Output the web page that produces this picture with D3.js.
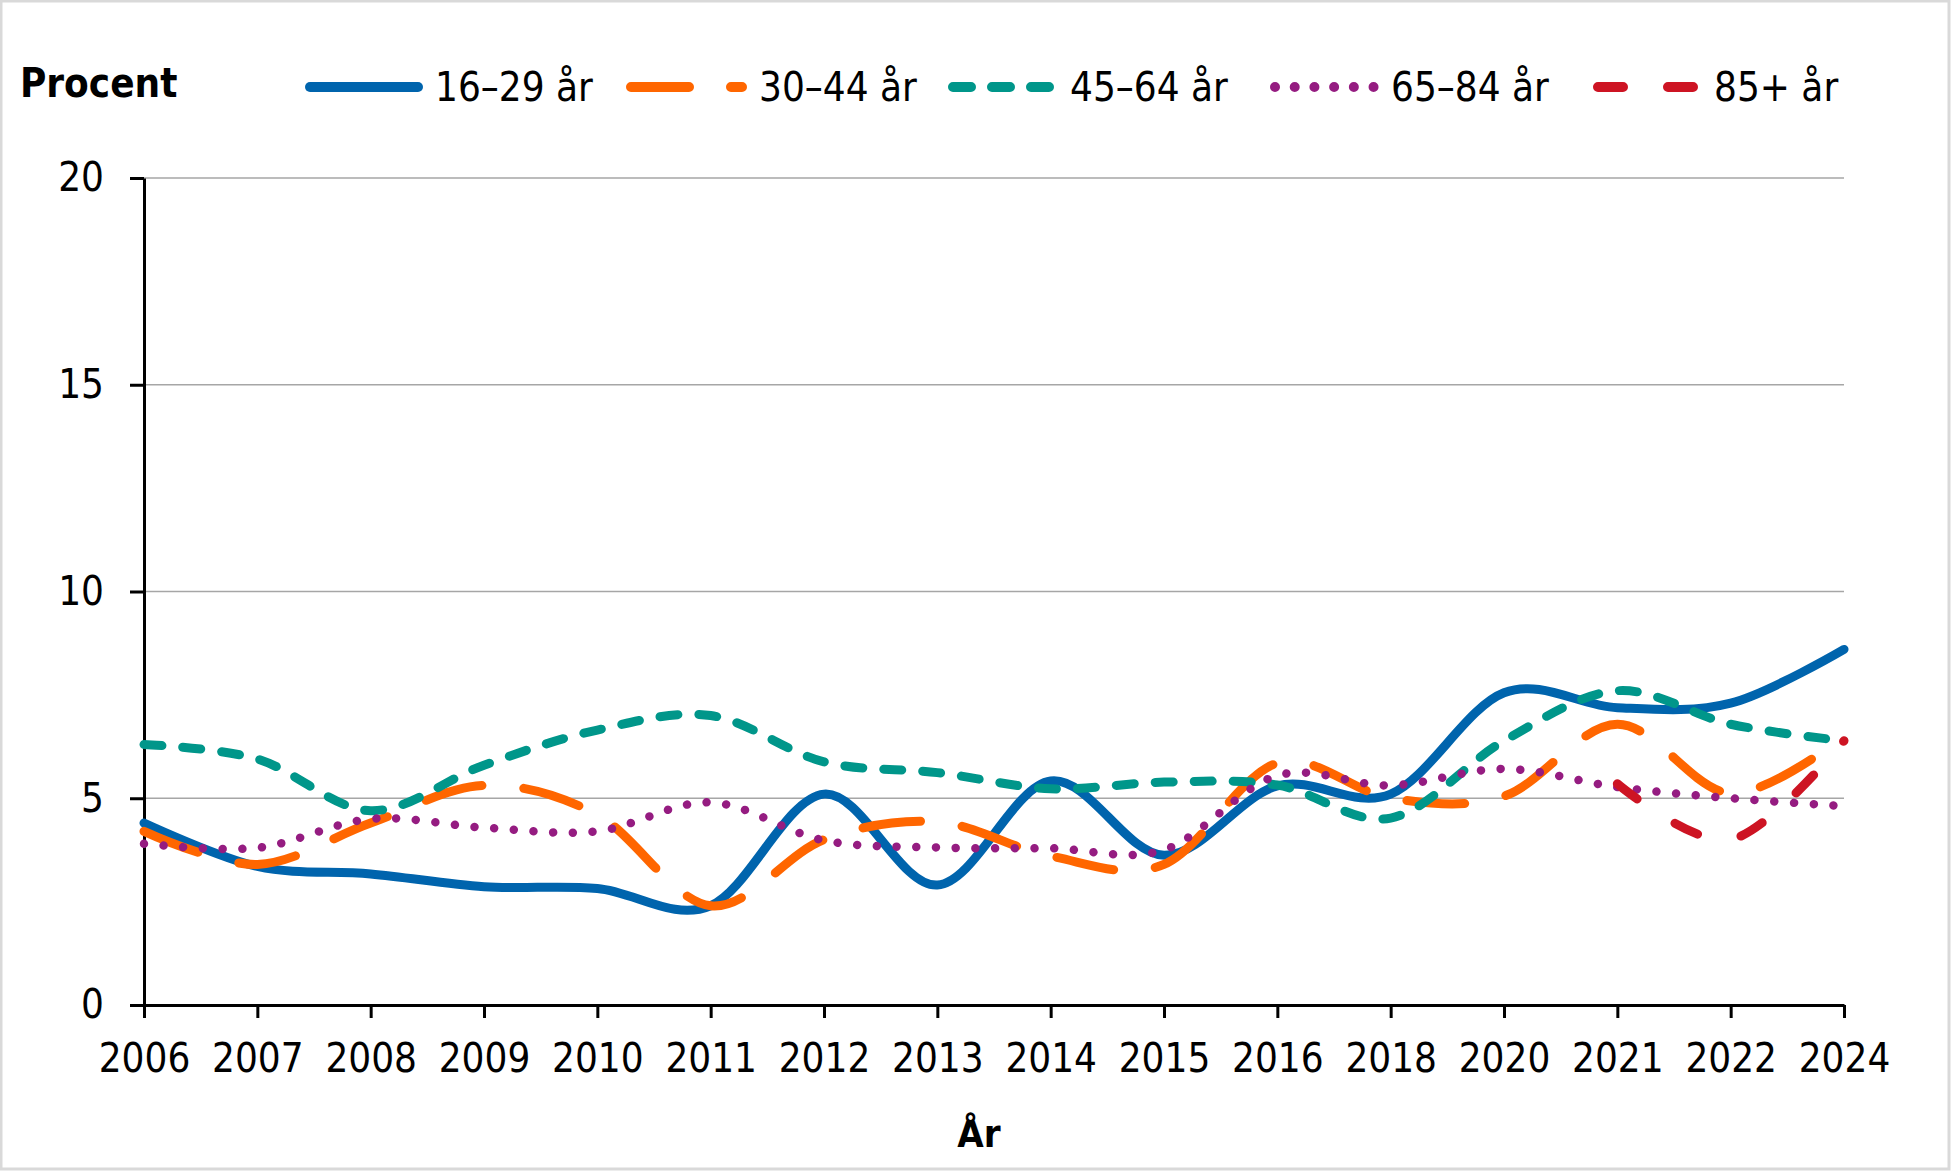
<!DOCTYPE html>
<html>
<head>
<meta charset="utf-8">
<script src="https://cdn.jsdelivr.net/npm/d3@7"></script>
<style>
  body { margin: 0; background: #fff; }
  text { font-family: 'DejaVu Sans Condensed', 'DejaVu Sans', sans-serif; font-stretch: condensed; fill: #000; }
</style>
</head>
<body>
<div id="chart"></div>
<script>
// data
const years = ['2006', '2007', '2008', '2009', '2010', '2011', '2012', '2013', '2014', '2015', '2016', '2018', '2020', '2021', '2022', '2024'];
const age16to29 = [4.4, 3.35, 3.17, 2.86, 2.82, 2.4, 5.1, 2.9, 5.42, 3.62, 5.3, 5.1, 7.55, 7.19, 7.3, 8.6];
const age30to44 = [4.2, 3.4, 4.4, 5.31, 4.6, 2.4, 4.0, 4.43, 3.6, 3.4, 5.85, 5.0, 5.05, 6.79, 5.12, 6.5];
const age45to64 = [6.3, 5.95, 4.7, 5.8, 6.65, 7.0, 5.88, 5.62, 5.23, 5.39, 5.32, 4.52, 6.39, 7.6, 6.79, 6.39];
const age65to84 = [3.9, 3.8, 4.5, 4.29, 4.2, 4.9, 3.98, 3.81, 3.79, 3.75, 5.55, 5.31, 5.71, 5.27, 5.0, 4.81];
const age85plus = [null, null, null, null, null, null, null, null, null, null, null, null, null, 5.35, 4.0, 6.39];
const yTicks = [0, 5, 10, 15, 20];

// chart parameters
const svgWidth = 1951;
const svgHeight = 1171;
const plot = { left: 144, right: 1844, top: 178, bottom: 1005 };

const series = [
  { name: '16\u201329 år', values: age16to29, color: '#0064ad', width: 9, dash: null },
  { name: '30\u201344 år', values: age30to44, color: '#ff6600', width: 9, dash: '58 42' },
  { name: '45\u201364 år', values: age45to64, color: '#00968a', width: 9, dash: '18 21' },
  { name: '65\u201384 år', values: age65to84, color: '#951c81', width: 8.5, dash: '0.01 19.7' },
  { name: '85+ år', values: age85plus, color: '#cd1423', width: 9, dash: '25 45' }
];

const svg = d3.select('#chart')
  .append('svg')
  .attr('width', svgWidth)
  .attr('height', svgHeight);

// outer frame
svg.append('rect')
  .attr('x', 1)
  .attr('y', 1)
  .attr('width', svgWidth - 3)
  .attr('height', svgHeight - 3)
  .attr('fill', '#fff')
  .attr('stroke', '#d9d9d9')
  .attr('stroke-width', 3);

const xScale = d3.scalePoint()
  .domain(years)
  .range([plot.left, plot.right]);

const yScale = d3.scaleLinear()
  .domain([0, 20])
  .range([plot.bottom, plot.top]);

// gridlines
svg.append('g')
  .selectAll('line')
  .data(yTicks.filter(d => d > 0))
  .enter()
  .append('line')
  .attr('x1', plot.left)
  .attr('x2', plot.right)
  .attr('y1', d => yScale(d))
  .attr('y2', d => yScale(d))
  .attr('stroke', '#a6a6a6')
  .attr('stroke-width', 1.5);

// y axis
const yAxis = svg.append('g')
  .attr('transform', `translate(${plot.left}, 0)`)
  .call(d3.axisLeft(yScale).tickValues(yTicks).tickSize(14).tickPadding(26).tickSizeOuter(0));

// x axis
const xAxis = svg.append('g')
  .attr('transform', `translate(0, ${plot.bottom})`)
  .call(d3.axisBottom(xScale).tickSize(13).tickPadding(26).tickSizeOuter(0));

[xAxis, yAxis].forEach(ax => {
  ax.select('.domain').attr('stroke', '#000').attr('stroke-width', 3);
  ax.selectAll('.tick line').attr('stroke', '#000').attr('stroke-width', 3);
  ax.selectAll('.tick text').attr('font-size', 40).attr('fill', '#000');
});

// smoothed lines like the original
const line = d3.line()
  .defined(d => d.v !== null)
  .x(d => xScale(d.year))
  .y(d => yScale(d.v))
  .curve(d3.curveCardinal.tension(0));

svg.append('g')
  .selectAll('path')
  .data(series)
  .enter()
  .append('path')
  .attr('d', s => line(years.map((y, i) => ({ year: y, v: s.values[i] }))))
  .attr('fill', 'none')
  .attr('stroke', s => s.color)
  .attr('stroke-width', s => s.width)
  .attr('stroke-linecap', 'round')
  .attr('stroke-dasharray', s => s.dash);

// legend
const legendX = [305, 626, 948, 1270, 1593];
const legendLen = [118, 121, 110, 109, 109];

svg.append('text')
  .attr('x', 20)
  .attr('y', 97)
  .attr('font-size', 40)
  .attr('font-weight', 'bold')
  .text('Procent');

const legend = svg.append('g')
  .selectAll('g')
  .data(series)
  .enter()
  .append('g')
  .attr('transform', (d, i) => `translate(${legendX[i]}, 87)`);

legend.append('line')
  .attr('x1', 5)
  .attr('x2', (d, i) => legendLen[i] - 5)
  .attr('stroke', d => d.color)
  .attr('stroke-width', 10)
  .attr('stroke-linecap', 'round')
  .attr('stroke-dasharray', d => d.dash);

legend.append('text')
  .attr('x', (d, i) => legendLen[i] + 12)
  .attr('y', 14)
  .attr('font-size', 40)
  .text(d => d.name);

// x axis title
svg.append('text')
  .attr('x', 979)
  .attr('y', 1147)
  .attr('text-anchor', 'middle')
  .attr('font-size', 38)
  .attr('font-weight', 'bold')
  .text('År');
</script>
</body>
</html>
